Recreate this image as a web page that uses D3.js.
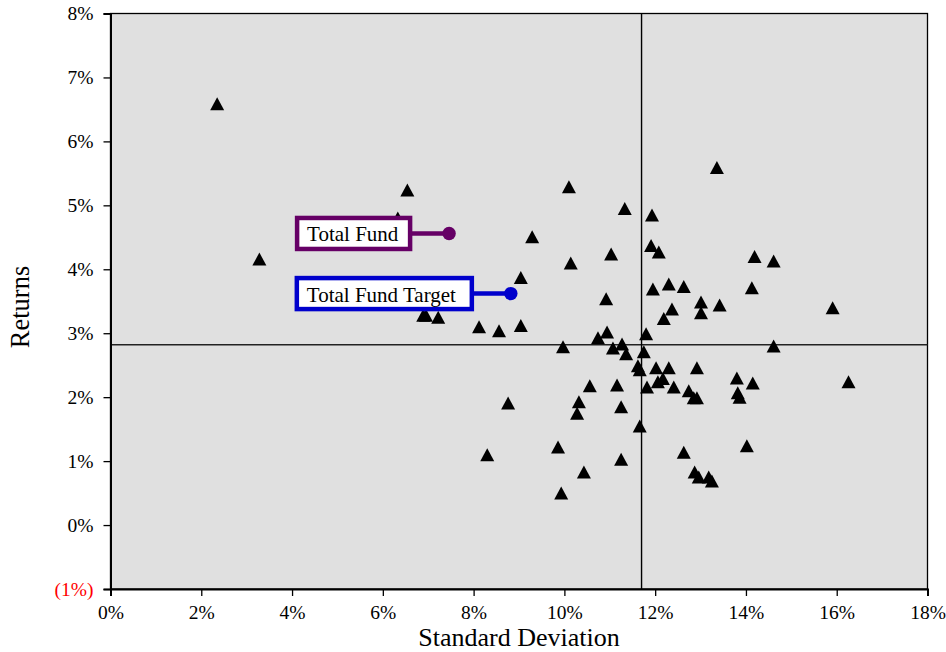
<!DOCTYPE html>
<html>
<head>
<meta charset="utf-8">
<script src="https://cdn.jsdelivr.net/npm/d3@7"></script>
<style>
  html, body { margin: 0; padding: 0; background: #ffffff; }
  svg { display: block; }
  text { font-family: "Liberation Serif", "Times New Roman", serif; }
</style>
</head>
<body>
<svg id="chart" width="946" height="652"></svg>
<script>
// ---- Data (percent) ----
const stdDev = [
  2.35, 3.28, 6.54, 6.33, 6.89, 6.95, 7.22, 8.12, 8.56, 9.04,
  9.04, 9.29, 10.10, 11.33, 11.93, 11.91, 12.08, 11.03, 10.14, 12.30,
  11.95, 12.63, 10.92, 12.37, 12.19, 10.94, 10.74, 11.80, 9.97, 11.07,
  11.27, 11.36, 11.75, 11.62, 11.66, 12.02, 12.30, 12.92, 10.56, 11.16,
  11.82, 12.06, 12.17, 12.41, 12.74, 12.85, 12.92, 13.80, 14.15, 13.82,
  13.86, 16.26, 8.76, 10.32, 10.28, 11.25, 11.66, 8.30, 9.86, 11.25,
  10.43, 9.93, 13.36, 14.19, 14.61, 14.13, 13.01, 13.42, 13.01, 15.91,
  14.61, 12.63, 14.02, 12.87, 12.96, 13.18, 13.25
];
const returns = [
  6.59, 4.16, 5.24, 4.80, 3.28, 3.28, 3.25, 3.10, 3.04, 3.12,
  3.87, 4.51, 5.29, 4.95, 4.85, 4.37, 4.27, 4.24, 4.10, 3.77,
  3.69, 3.73, 3.54, 3.38, 3.23, 3.02, 2.93, 2.99, 2.79, 2.77,
  2.83, 2.68, 2.71, 2.49, 2.43, 2.46, 2.46, 2.46, 2.18, 2.19,
  2.16, 2.24, 2.29, 2.16, 2.10, 1.99, 1.99, 2.30, 2.22, 2.07,
  2.00, 2.24, 1.91, 1.93, 1.75, 1.85, 1.55, 1.10, 1.22, 1.03,
  0.83, 0.50, 5.59, 4.20, 4.13, 3.71, 3.49, 3.44, 3.32, 3.40,
  2.80, 1.14, 1.24, 0.83, 0.75, 0.75, 0.69
];
const highlightNames = ["Total Fund", "Total Fund Target"];
const highlightStd = [7.46, 8.82];
const highlightRet = [4.56, 3.62];
const highlightColors = ["#660066", "#0000cc"];
const medianStd = 11.70;
const medianRet = 2.82;
const xTicks = [0, 2, 4, 6, 8, 10, 12, 14, 16, 18];
const yTicks = [-1, 0, 1, 2, 3, 4, 5, 6, 7, 8];

// ---- Layout ----
const svg = d3.select("#chart");
const pLeft = 110.5, pRight = 927.5, pTop = 13.5, pBottom = 589;
const x = d3.scaleLinear().domain([0, 18]).range([pLeft, pRight]);
const y = d3.scaleLinear().domain([-1, 8]).range([pBottom, pTop]);

// plot background
svg.append("rect")
  .attr("x", pLeft).attr("y", pTop)
  .attr("width", pRight - pLeft).attr("height", pBottom - pTop)
  .attr("fill", "#e0e0e0")
  .attr("stroke", "#000").attr("stroke-width", 1.3);

// median lines
svg.append("line")
  .attr("x1", pLeft).attr("x2", pRight)
  .attr("y1", y(medianRet)).attr("y2", y(medianRet))
  .attr("stroke", "#222").attr("stroke-width", 1.4);
svg.append("line")
  .attr("x1", x(medianStd)).attr("x2", x(medianStd))
  .attr("y1", pTop).attr("y2", pBottom)
  .attr("stroke", "#000").attr("stroke-width", 1.4);

// axes
const yAxis = d3.axisLeft(y).tickValues(yTicks).tickSize(7).tickPadding(10)
  .tickFormat(d => d < 0 ? "(" + Math.abs(d) + "%)" : d + "%");
const gy = svg.append("g").attr("transform", `translate(${pLeft},0)`).call(yAxis);
gy.select(".domain").attr("stroke", "#000").attr("stroke-width", 2);
gy.selectAll(".tick line").attr("stroke", "#000").attr("stroke-width", 1.3);
gy.selectAll(".tick text")
  .attr("font-size", "19.5px")
  .attr("font-family", "'Liberation Serif', 'Times New Roman', serif")
  .attr("fill", d => d < 0 ? "#ff0000" : "#000");

const xAxis = d3.axisBottom(x).tickValues(xTicks).tickSize(7)
  .tickFormat(d => d + "%");
const gx = svg.append("g").attr("transform", `translate(0,${pBottom})`).call(xAxis);
gx.select(".domain").attr("stroke", "#000").attr("stroke-width", 2);
gx.selectAll(".tick line").attr("stroke", "#000").attr("stroke-width", 1.3);
gx.selectAll(".tick text")
  .attr("y", 30).attr("dy", null)
  .attr("font-size", "19.5px")
  .attr("font-family", "'Liberation Serif', 'Times New Roman', serif")
  .attr("fill", "#000");

// axis titles
svg.append("text")
  .attr("x", (pLeft + pRight) / 2).attr("y", 646)
  .attr("text-anchor", "middle")
  .attr("font-size", "26px")
  .text("Standard Deviation");
svg.append("text")
  .attr("transform", "translate(28.5,307) rotate(-90)")
  .attr("text-anchor", "middle")
  .attr("font-size", "26.5px")
  .text("Returns");

// triangle markers (bbox-centred)
const tri = "M0,-6.5 L7,6.5 L-7,6.5 Z";
svg.append("g").selectAll("path")
  .data(d3.range(stdDev.length))
  .join("path")
  .attr("d", tri)
  .attr("transform", i => `translate(${x(stdDev[i])},${y(returns[i])})`)
  .attr("fill", "#000");

// highlighted funds with label boxes
const boxW = [113, 175];
const boxH = 31;
const gap = 37;
highlightNames.forEach((name, i) => {
  const px = x(highlightStd[i]), py = y(highlightRet[i]);
  const c = highlightColors[i];
  const bx = px - gap - boxW[i] - 2;
  const g = svg.append("g");
  g.append("line")
    .attr("x1", bx + boxW[i]).attr("x2", px)
    .attr("y1", py).attr("y2", py)
    .attr("stroke", c).attr("stroke-width", 4.5);
  g.append("rect")
    .attr("x", bx).attr("y", py - boxH / 2)
    .attr("width", boxW[i]).attr("height", boxH)
    .attr("fill", "#fff")
    .attr("stroke", c).attr("stroke-width", 4.5);
  g.append("text")
    .attr("x", bx + 10).attr("y", py + 8)
    .attr("font-size", "21px")
    .attr("font-family", "'Liberation Serif', 'Times New Roman', serif")
    .attr("fill", "#000")
    .text(name);
  g.append("circle")
    .attr("cx", px).attr("cy", py).attr("r", 6.7)
    .attr("fill", c);
});
</script>
</body>
</html>
